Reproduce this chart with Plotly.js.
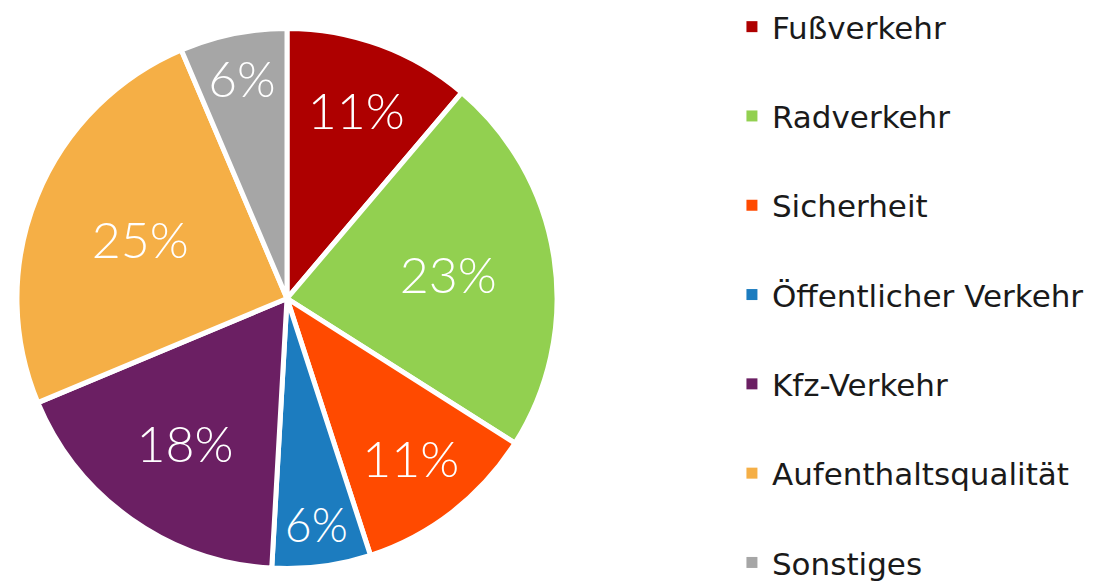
<!DOCTYPE html>
<html>
<head>
<meta charset="utf-8">
<script src="https://cdn.plot.ly/plotly-3.0.1.min.js"></script>
<style>html,body{margin:0;padding:0;background:#fff}#chart{width:1109px;height:583px}</style>
</head>
<body>
<div id="chart"></div>
<script>
const categories = ["Fußverkehr", "Radverkehr", "Sicherheit", "Öffentlicher Verkehr", "Kfz-Verkehr", "Aufenthaltsqualität", "Sonstiges"];
const shares = [11.2, 22.8, 11.0, 5.9, 17.8, 24.9, 6.4];
const colors = ["#AE0000", "#92D050", "#FF4A00", "#1C7CBF", "#6B1F63", "#F5AF46", "#A6A6A6"];

const pie = {
  type: "pie",
  labels: categories,
  values: shares,
  sort: false,
  direction: "clockwise",
  rotation: 0,
  marker: { colors: colors, line: { color: "#ffffff", width: 5 } },
  texttemplate: "%{percent:.0%}",
  textposition: "inside",
  insidetextorientation: "horizontal",
  insidetextfont: { color: "#ffffff", size: 50, family: "Lato, 'Open Sans', sans-serif", weight: 300 },
  hoverinfo: "label+percent",
  showlegend: false,
  domain: { x: [0.0153, 0.5023], y: [0.024, 0.952] }
};

const legendTraces = categories.map((c, i) => ({
  type: "scatter",
  x: [null], y: [null],
  mode: "markers",
  name: c,
  legendgroup: "g" + i,
  marker: { symbol: "square", size: 11, color: colors[i] },
  hoverinfo: "skip"
}));

const layout = {
  width: 1109, height: 583,
  margin: { l: 0, r: 0, t: 0, b: 0 },
  paper_bgcolor: "#ffffff",
  plot_bgcolor: "#ffffff",
  font: { family: "'DejaVu Sans', sans-serif", color: "#1a1a1a" },
  xaxis: { visible: false, domain: [0.66, 0.67] },
  yaxis: { visible: false, domain: [0, 0.01] },
  showlegend: true,
  legend: {
    x: 0.66, xanchor: "left",
    y: 0.9966, yanchor: "top",
    traceorder: "grouped",
    tracegroupgap: 46,
    font: { size: 31, color: "#1a1a1a", family: "'DejaVu Sans', sans-serif" },
    itemwidth: 30,
    bgcolor: "rgba(0,0,0,0)"
  }
};

Plotly.newPlot("chart", [pie, ...legendTraces], layout, { displayModeBar: false, staticPlot: true });
</script>
</body>
</html>
